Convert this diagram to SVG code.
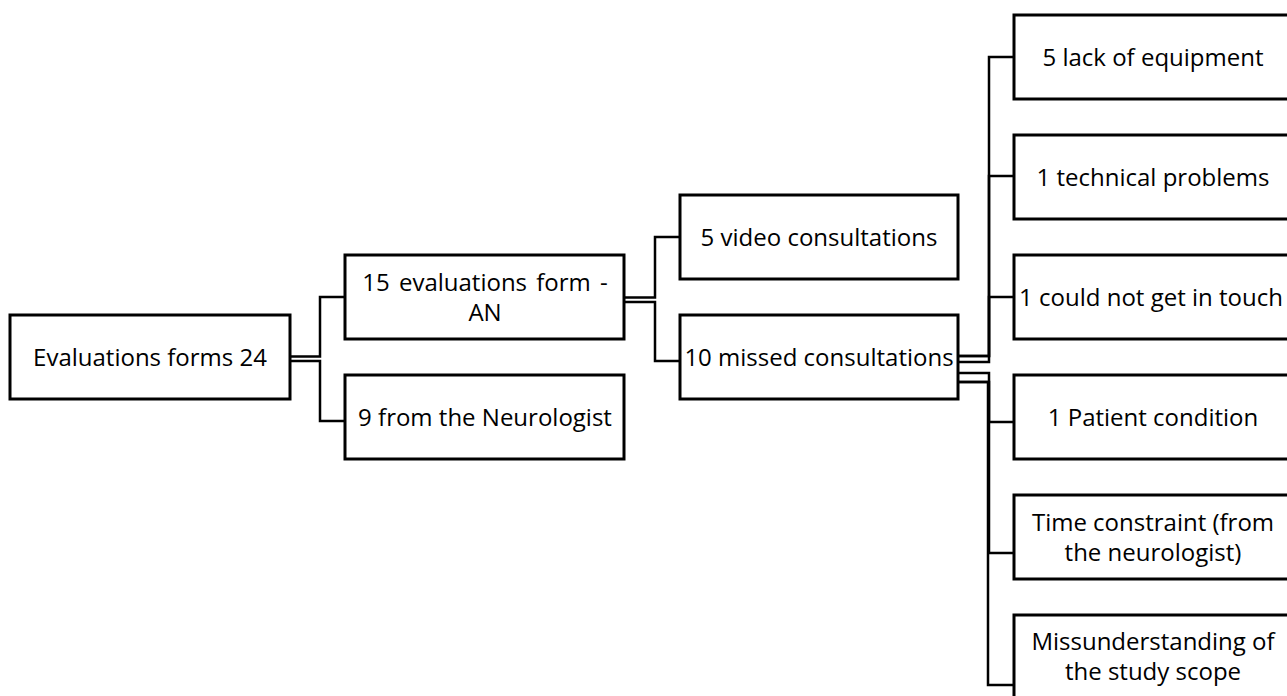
<svg xmlns="http://www.w3.org/2000/svg" width="1287" height="696" viewBox="0 0 1287 696">
<style>
.box{fill:#fff;stroke:#000;stroke-width:3}
.lbl{font-family:"Open Sans","Liberation Sans",sans-serif;font-size:24px;fill:#000;text-anchor:middle;dominant-baseline:central}
.c{fill:none;stroke:#000;stroke-width:2.5;stroke-linejoin:miter}
</style>
<rect width="1287" height="696" fill="#fff"/>
<g id="connectors">
<path class="c" d="M290 356.5H320V297H345"/>
<path class="c" d="M290 361H320V421H345"/>
<path class="c" d="M624 297.5H655V237H680"/>
<path class="c" d="M624 302H655V361H680"/>
<path class="c" d="M958 356H989V57H1014"/>
<path class="c" d="M958 356H989V176H1014"/>
<path class="c" d="M958 362H989V297H1014"/>
<path class="c" d="M958 373H989V422H1014"/>
<path class="c" d="M958 382H989V553H1014"/>
<path class="c" d="M958 382H988V685H1014"/>
</g>
<g id="n1"><rect class="box" x="10" y="315" width="280" height="84"/><text class="lbl" x="150" y="356">Evaluations forms 24</text></g>
<g id="n2"><rect class="box" x="345" y="255" width="279" height="84"/><text class="lbl" x="485" y="281" word-spacing="3">15 evaluations form -</text><text class="lbl" x="485" y="311">AN</text></g>
<g id="n3"><rect class="box" x="345" y="375" width="279" height="84"/><text class="lbl" x="485" y="416">9 from the Neurologist</text></g>
<g id="n4"><rect class="box" x="680" y="195" width="278" height="84"/><text class="lbl" x="819" y="236">5 video consultations</text></g>
<g id="n5"><rect class="box" x="680" y="315" width="278" height="84"/><text class="lbl" x="819" y="356">10 missed consultations</text></g>
<g id="n6"><rect class="box" x="1014" y="15" width="278" height="84"/><text class="lbl" x="1153" y="56">5 lack of equipment</text></g>
<g id="n7"><rect class="box" x="1014" y="135" width="278" height="84"/><text class="lbl" x="1153" y="176">1 technical problems</text></g>
<g id="n8"><rect class="box" x="1014" y="255" width="278" height="84"/><text class="lbl" x="1151" y="296">1 could not get in touch</text></g>
<g id="n9"><rect class="box" x="1014" y="375" width="278" height="84"/><text class="lbl" x="1153" y="416">1 Patient condition</text></g>
<g id="n10"><rect class="box" x="1014" y="495" width="278" height="84"/><text class="lbl" x="1153" y="521">Time constraint (from</text><text class="lbl" x="1153" y="551">the neurologist)</text></g>
<g id="n11"><rect class="box" x="1014" y="615" width="278" height="84"/><text class="lbl" x="1153" y="640">Missunderstanding of</text><text class="lbl" x="1153" y="670">the study scope</text></g>
</svg>
